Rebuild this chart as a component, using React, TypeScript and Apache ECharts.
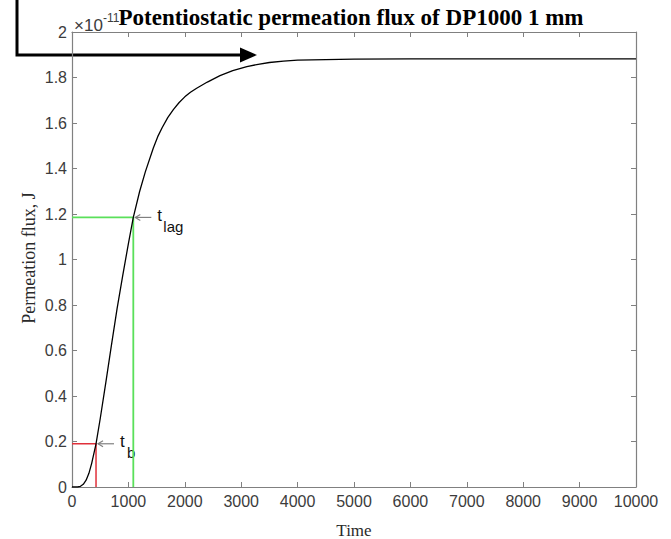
import React, { useEffect, useRef } from "react";
import * as echarts from "echarts";

// Permeation flux curve (flux in units of 1e-11)
const timeValues = [0, 100, 150, 200, 250, 300, 350, 426, 500, 600, 700, 800, 900, 1000, 1087, 1200, 1300, 1442, 1520, 1600, 1700, 1800, 1900, 2000, 2100, 2210, 2400, 2624, 2850, 3100, 3300, 3500, 3750, 4000, 4500, 5000, 6000, 8000, 10000];
const fluxValues = [0, 0, 0.003, 0.012, 0.03, 0.06, 0.105, 0.19, 0.3, 0.46, 0.625, 0.785, 0.93, 1.07, 1.185, 1.3, 1.385, 1.49, 1.54, 1.58, 1.625, 1.66, 1.69, 1.715, 1.735, 1.753, 1.78, 1.808, 1.83, 1.848, 1.858, 1.866, 1.872, 1.876, 1.879, 1.881, 1.882, 1.882, 1.882];

// Breakthrough and lag markers
const breakTime = 426;
const breakFlux = 0.19;
const lagTime = 1087;
const lagFlux = 1.185;

const xTicks = { min: 0, max: 10000, interval: 1000 };
const yTicks = { min: 0, max: 2, interval: 0.2 };

const titleText = "Potentiostatic permeation flux of DP1000 1 mm";
const xName = "Time";
const yName = "Permeation flux, J";
const exponentBase = "×10";
const exponentPower = "-11";

export default function App() {
  const ref = useRef<HTMLDivElement>(null);
  useEffect(() => {
    const chart = echarts.init(ref.current!, null, { renderer: "svg" });
    const axisColor = "#808080";
    const labelColor = "#3c3c3c";
    const sans = "'Liberation Sans', Arial, Helvetica, sans-serif";
    const serif = "'Liberation Serif', 'Times New Roman', serif";
    const axisLine = { show: true, onZero: false, lineStyle: { color: axisColor, width: 1.2 } };
    const axisTick = { show: true, inside: true, length: 5, lineStyle: { color: axisColor, width: 1 } };
    const xBase: any = { type: "value", ...xTicks, axisLine, axisTick, splitLine: { show: false } };
    const yBase: any = { type: "value", ...yTicks, axisLine, axisTick, splitLine: { show: false } };
    chart.setOption({
      animation: false,
      backgroundColor: "#ffffff",
      grid: { left: 72, right: 35, top: 32, bottom: 52, containLabel: false, outerBoundsMode: "none" },
      xAxis: [
        {
          ...xBase,
          position: "bottom",
          name: xName,
          nameLocation: "middle",
          nameGap: 35,
          nameMoveOverlap: false,
          nameTextStyle: { fontFamily: serif, fontSize: 17, color: "#2a2a2a" },
          axisLabel: { color: labelColor, fontFamily: sans, fontSize: 16, margin: 6, formatter: (v: number) => String(v) },
        },
        { ...xBase, position: "top", axisLabel: { show: false } },
      ],
      yAxis: [
        {
          ...yBase,
          position: "left",
          axisLabel: {
            color: labelColor,
            fontFamily: sans,
            fontSize: 16,
            margin: 5,
            formatter: (v: number) => String(Number(v.toFixed(1))),
          },
        },
        { ...yBase, position: "right", axisLabel: { show: false } },
      ],
      series: [
        {
          type: "line",
          data: [[0, breakFlux], [breakTime, breakFlux], [breakTime, 0]],
          showSymbol: false,
          symbol: "none",
          lineStyle: { color: "#e0303a", width: 1.5 },
          silent: true,
          z: 2,
        },
        {
          type: "line",
          data: [[0, lagFlux], [lagTime, lagFlux], [lagTime, 0]],
          showSymbol: false,
          symbol: "none",
          lineStyle: { color: "#5ae05a", width: 1.8 },
          silent: true,
          z: 2,
        },
        {
          type: "line",
          data: timeValues.map((t, i) => [t, fluxValues[i]]),
          showSymbol: false,
          symbol: "none",
          lineStyle: { color: "#000000", width: 1.3 },
          silent: true,
          z: 3,
        },
      ],
    });

    const pb = chart.convertToPixel({ xAxisIndex: 0, yAxisIndex: 0 }, [breakTime, breakFlux]) as number[];
    const pl = chart.convertToPixel({ xAxisIndex: 0, yAxisIndex: 0 }, [lagTime, lagFlux]) as number[];
    const grayArrow = (p: number[]) => [
      { type: "line", shape: { x1: p[0] + 2, y1: p[1], x2: p[0] + 18, y2: p[1] }, style: { stroke: "#808080", lineWidth: 1.2 } },
      { type: "polyline", shape: { points: [[p[0] + 7, p[1] - 3], [p[0] + 2, p[1]], [p[0] + 7, p[1] + 3]] }, style: { stroke: "#808080", lineWidth: 1.2, fill: null } },
    ];
    const subLabel = (p: number[], main: string, sub: string, subDx: number) => [
      { type: "text", x: p[0] + 24, y: p[1] - 2, style: { text: main, fontFamily: sans, fontSize: 17, fill: "#111", verticalAlign: "middle", align: "left" } },
      { type: "text", x: p[0] + subDx, y: p[1] + 9, style: { text: sub, fontFamily: sans, fontSize: 15, fill: "#111", verticalAlign: "middle", align: "left" } },
    ];

    chart.setOption({
      graphic: [
        { type: "polyline", shape: { points: [[17, 0], [17, 55], [242, 55]] }, style: { stroke: "#000", lineWidth: 3, fill: null } },
        { type: "polygon", shape: { points: [[240, 47.5], [257, 55], [240, 62.5]] }, style: { fill: "#000" } },
        { type: "text", x: 351, y: 17, style: { text: titleText, fontFamily: serif, fontWeight: "bold", fontSize: 23, fill: "#000", align: "center", verticalAlign: "middle" } },
        { type: "text", x: 74, y: 25, style: { text: exponentBase, fontFamily: sans, fontSize: 17, fill: labelColor, align: "left", verticalAlign: "middle" } },
        { type: "text", x: 103, y: 18, style: { text: exponentPower, fontFamily: sans, fontSize: 12, fill: labelColor, align: "left", verticalAlign: "middle" } },
        { type: "text", x: 29, y: 258, rotation: Math.PI / 2, style: { text: yName, fontFamily: serif, fontSize: 18, fill: "#2a2a2a", align: "center", verticalAlign: "middle" } },
        ...grayArrow(pl),
        ...grayArrow(pb),
        ...subLabel(pl, "t", "lag", 30),
        ...subLabel(pb, "t", "b", 31),
      ],
    });
    return () => chart.dispose();
  }, []);
  return (
    <div
      ref={ref}
      style={{ position: "absolute", left: 0, top: 0, width: 671, height: 539, background: "#fff" }}
    />
  );
}
